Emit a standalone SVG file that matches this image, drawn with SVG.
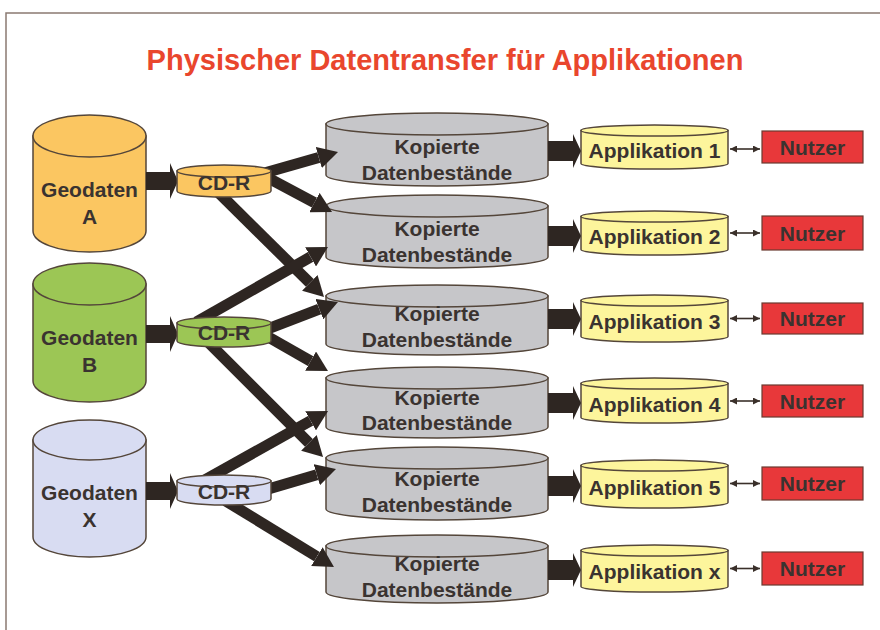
<svg xmlns="http://www.w3.org/2000/svg" width="880" height="630" viewBox="0 0 880 630">
<style>
.cyl{stroke:#54463a;stroke-width:1.5}
.ga{fill:#fbc661}.gb{fill:#9cc655}.gx{fill:#d8dcf2}
.kop{fill:#c6c6c9}.app{fill:#fdf59c}
.nutz{fill:#e8383a;stroke:#6a3a30;stroke-width:1.2}
.t{font-family:"Liberation Sans",Arial,sans-serif;font-weight:bold;font-size:21px;fill:#3a3330;text-anchor:middle}
.diag{stroke:#2e2622;stroke-width:11;fill:none;marker-end:url(#big)}
.thin{stroke:#3a302a;stroke-width:1.6;fill:none;marker-start:url(#small);marker-end:url(#small)}
.blk{fill:#2e2622}
</style>
<defs>
<marker id="big" viewBox="0 0 20 22" refX="0" refY="11" markerWidth="20" markerHeight="22" markerUnits="userSpaceOnUse" orient="auto"><path d="M0,0 L20,11 L0,22 z" fill="#2e2622"/></marker>
<marker id="small" viewBox="0 0 8 8" refX="8" refY="4" markerWidth="7" markerHeight="7" markerUnits="userSpaceOnUse" orient="auto-start-reverse"><path d="M0,0 L8,4 L0,8 z" fill="#3a302a"/></marker>
</defs>
<rect width="880" height="630" fill="#ffffff"/>
<path d="M6,630 V13 H880" fill="none" stroke="#8a7a72" stroke-width="1.5"/>
<text x="445" y="70" style="font-family:'Liberation Sans',Arial,sans-serif;font-weight:bold;font-size:29px;fill:#e9462d;text-anchor:middle">Physischer Datentransfer für Applikationen</text>

<g id="geodaten-a">
<path class="cyl ga" d="M33,136 V231 A56.5,21 0 0 0 146,231 V136 Z"/>
<ellipse class="cyl ga" cx="89.5" cy="136" rx="56.5" ry="21"/>
<text class="t" x="89.5" y="197">Geodaten</text><text class="t" x="89.5" y="224">A</text>
</g>
<g id="geodaten-b">
<path class="cyl gb" d="M33,284 V381 A56.5,21 0 0 0 146,381 V284 Z"/>
<ellipse class="cyl gb" cx="89.5" cy="284" rx="56.5" ry="21"/>
<text class="t" x="89.5" y="345">Geodaten</text><text class="t" x="89.5" y="372">B</text>
</g>
<g id="geodaten-x">
<path class="cyl gx" d="M33,440 V537 A56.5,20 0 0 0 146,537 V440 Z"/>
<ellipse class="cyl gx" cx="89.5" cy="440" rx="56.5" ry="20"/>
<text class="t" x="89.5" y="500">Geodaten</text><text class="t" x="89.5" y="527">X</text>
</g>

<g id="kopie-1"><path class="cyl kop" d="M326,124 V175 A111,11 0 0 0 548,175 V124 Z"/><ellipse class="cyl kop" cx="437" cy="124" rx="111" ry="11"/><text class="t" x="437" y="154">Kopierte</text><text class="t" x="437" y="180">Datenbestände</text></g>
<g id="kopie-2"><path class="cyl kop" d="M326,206 V257 A111,11 0 0 0 548,257 V206 Z"/><ellipse class="cyl kop" cx="437" cy="206" rx="111" ry="11"/><text class="t" x="437" y="236">Kopierte</text><text class="t" x="437" y="262">Datenbestände</text></g>
<g id="kopie-3"><path class="cyl kop" d="M326,296 V344 A111,11 0 0 0 548,344 V296 Z"/><ellipse class="cyl kop" cx="437" cy="296" rx="111" ry="11"/><text class="t" x="437" y="321">Kopierte</text><text class="t" x="437" y="347">Datenbestände</text></g>
<g id="kopie-4"><path class="cyl kop" d="M326,378 V427 A111,11 0 0 0 548,427 V378 Z"/><ellipse class="cyl kop" cx="437" cy="378" rx="111" ry="11"/><text class="t" x="437" y="405">Kopierte</text><text class="t" x="437" y="430">Datenbestände</text></g>
<g id="kopie-5"><path class="cyl kop" d="M326,458 V509 A111,11 0 0 0 548,509 V458 Z"/><ellipse class="cyl kop" cx="437" cy="458" rx="111" ry="11"/><text class="t" x="437" y="486">Kopierte</text><text class="t" x="437" y="512">Datenbestände</text></g>
<g id="kopie-6"><path class="cyl kop" d="M326,546 V592 A111,11 0 0 0 548,592 V546 Z"/><ellipse class="cyl kop" cx="437" cy="546" rx="111" ry="11"/><text class="t" x="437" y="571">Kopierte</text><text class="t" x="437" y="597">Datenbestände</text></g>

<g id="app-1"><path class="cyl app" d="M581,130.5 V163.5 A73.5,5.5 0 0 0 728,163.5 V130.5 Z"/><ellipse class="cyl app" cx="654.5" cy="130.5" rx="73.5" ry="5.5"/><text class="t" x="654.5" y="158">Applikation 1</text></g>
<g id="app-2"><path class="cyl app" d="M581,216.5 V249.5 A73.5,5.5 0 0 0 728,249.5 V216.5 Z"/><ellipse class="cyl app" cx="654.5" cy="216.5" rx="73.5" ry="5.5"/><text class="t" x="654.5" y="244">Applikation 2</text></g>
<g id="app-3"><path class="cyl app" d="M581,300.5 V336.5 A73.5,5.5 0 0 0 728,336.5 V300.5 Z"/><ellipse class="cyl app" cx="654.5" cy="300.5" rx="73.5" ry="5.5"/><text class="t" x="654.5" y="329">Applikation 3</text></g>
<g id="app-4"><path class="cyl app" d="M581,383.5 V417.5 A73.5,5.5 0 0 0 728,417.5 V383.5 Z"/><ellipse class="cyl app" cx="654.5" cy="383.5" rx="73.5" ry="5.5"/><text class="t" x="654.5" y="412">Applikation 4</text></g>
<g id="app-5"><path class="cyl app" d="M581,465.5 V502.5 A73.5,5.5 0 0 0 728,502.5 V465.5 Z"/><ellipse class="cyl app" cx="654.5" cy="465.5" rx="73.5" ry="5.5"/><text class="t" x="654.5" y="495">Applikation 5</text></g>
<g id="app-6"><path class="cyl app" d="M581,550.5 V586.5 A73.5,5.5 0 0 0 728,586.5 V550.5 Z"/><ellipse class="cyl app" cx="654.5" cy="550.5" rx="73.5" ry="5.5"/><text class="t" x="654.5" y="579">Applikation x</text></g>

<g id="nutzer-1"><rect class="nutz" x="762" y="131" width="101" height="32"/><text class="t" x="812.5" y="154.5">Nutzer</text></g>
<g id="nutzer-2"><rect class="nutz" x="762" y="216" width="101" height="34"/><text class="t" x="812.5" y="240.5">Nutzer</text></g>
<g id="nutzer-3"><rect class="nutz" x="762" y="303" width="101" height="31"/><text class="t" x="812.5" y="326">Nutzer</text></g>
<g id="nutzer-4"><rect class="nutz" x="762" y="385" width="101" height="32"/><text class="t" x="812.5" y="408.5">Nutzer</text></g>
<g id="nutzer-5"><rect class="nutz" x="762" y="467" width="101" height="33"/><text class="t" x="812.5" y="491">Nutzer</text></g>
<g id="nutzer-6"><rect class="nutz" x="762" y="552" width="101" height="33"/><text class="t" x="812.5" y="576">Nutzer</text></g>

<g id="connectors">
<polygon class="blk" points="146,172 170,172 170,163 178,181 170,199 170,190 146,190"/>
<polygon class="blk" points="146,325 170,325 170,316 178,334 170,352 170,343 146,343"/>
<polygon class="blk" points="146,482 170,482 170,473 178,491 170,509 170,500 146,500"/>
<line class="diag" x1="256.5" y1="175.3" x2="318.8" y2="157.5"/>
<line class="diag" x1="261.4" y1="174.4" x2="314.4" y2="202.6"/>
<line class="diag" x1="214.9" y1="189" x2="309.8" y2="282.9"/>
<line class="diag" x1="196.3" y1="322" x2="310.6" y2="256.9"/>
<line class="diag" x1="260.7" y1="331.6" x2="319.3" y2="309.1"/>
<line class="diag" x1="261.3" y1="333" x2="310.6" y2="361.1"/>
<line class="diag" x1="205.9" y1="339.9" x2="308.9" y2="442.9"/>
<line class="diag" x1="203.3" y1="480.9" x2="310.6" y2="420.8"/>
<line class="diag" x1="262.4" y1="490.8" x2="316.8" y2="474.7"/>
<line class="diag" x1="225.5" y1="500.8" x2="316.9" y2="556.6"/>
<polygon class="blk" points="548,141 573,141 573,134 581,151 573,168 573,161 548,161"/>
<polygon class="blk" points="548,226 573,226 573,219 581,236 573,253 573,246 548,246"/>
<polygon class="blk" points="548,309 573,309 573,302 581,319 573,336 573,329 548,329"/>
<polygon class="blk" points="548,393 573,393 573,386 581,403 573,420 573,413 548,413"/>
<polygon class="blk" points="548,476 573,476 573,469 581,486 573,503 573,496 548,496"/>
<polygon class="blk" points="548,560 573,560 573,553 581,570 573,587 573,580 548,580"/>
<line class="thin" x1="730" y1="149" x2="760" y2="149"/>
<line class="thin" x1="730" y1="233" x2="760" y2="233"/>
<line class="thin" x1="730" y1="318.5" x2="760" y2="318.5"/>
<line class="thin" x1="730" y1="401" x2="760" y2="401"/>
<line class="thin" x1="730" y1="483.5" x2="760" y2="483.5"/>
<line class="thin" x1="730" y1="568.5" x2="760" y2="568.5"/>
</g>

<g id="cdr-a"><path class="cyl ga" d="M177,171 V191 A47,6 0 0 0 271,191 V171 Z"/><ellipse class="cyl ga" cx="224" cy="171" rx="47" ry="6"/><text class="t" x="224" y="190">CD-R</text></g>
<g id="cdr-b"><path class="cyl gb" d="M177,323 V341 A47,6 0 0 0 271,341 V323 Z"/><ellipse class="cyl gb" cx="224" cy="323" rx="47" ry="6"/><text class="t" x="224" y="340">CD-R</text></g>
<g id="cdr-x"><path class="cyl gx" d="M177,481 V499 A47,6 0 0 0 271,499 V481 Z"/><ellipse class="cyl gx" cx="224" cy="481" rx="47" ry="6"/><text class="t" x="224" y="499">CD-R</text></g>
</svg>
